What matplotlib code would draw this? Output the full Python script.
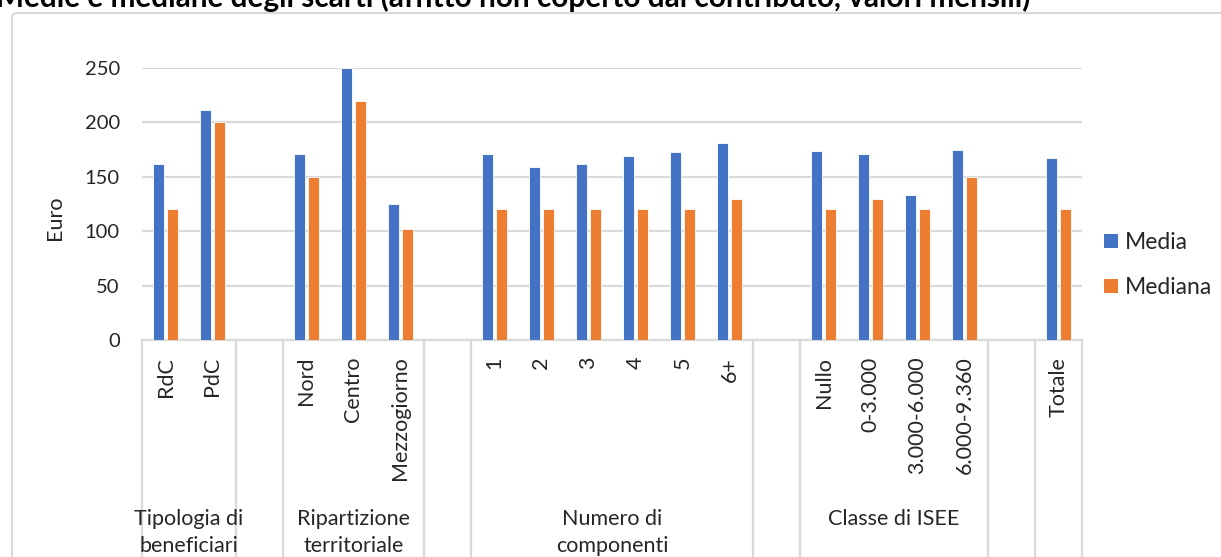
import matplotlib
matplotlib.use("Agg")
import matplotlib.pyplot as plt
import matplotlib.transforms as mtransforms
from matplotlib.patches import FancyBboxPatch, Patch
import numpy as np

plt.rcParams["font.family"] = ["Lato", "DejaVu Sans"]

# ---- data -------------------------------------------------------------
# Empty strings are spacer slots separating the category groups.
categories = ["RdC", "PdC", "",
              "Nord", "Centro", "Mezzogiorno", "",
              "1", "2", "3", "4", "5", "6+", "",
              "Nullo", "0-3.000", "3.000-6.000", "6.000-9.360", "",
              "Totale"]
media = [162, 211, np.nan,
         171, 250, 125, np.nan,
         171, 159, 162, 169, 173, 181, np.nan,
         174, 171, 133, 175, np.nan,
         167]
mediana = [120, 200, np.nan,
           150, 220, 102, np.nan,
           120, 120, 120, 120, 120, 130, np.nan,
           120, 130, 120, 150, np.nan,
           120]
group_labels = ["Tipologia di\nbeneficiari", "", "Ripartizione\nterritoriale", "",
                "Numero di\ncomponenti", "", "Classe di ISEE", "", ""]
group_sizes = [2, 1, 3, 1, 6, 1, 4, 1, 1]
series_names = ["Media", "Mediana"]
y_ticks = [0, 50, 100, 150, 200, 250]

# ---- style ------------------------------------------------------------
BLUE = "#4472C4"
ORANGE = "#ED7D31"
GRID = "#d9d9d9"
TEXT = "#262626"

W, H = 1221, 557
fig = plt.figure(figsize=(W / 100, H / 100), dpi=100)

# chart frame
frame = FancyBboxPatch((12 / W, -0.1), 1.2, 1 - 13 / H + 0.1,
                       boxstyle="round,pad=0,rounding_size=0.006",
                       transform=fig.transFigure, facecolor="none",
                       edgecolor=GRID, linewidth=1.5, zorder=-5)
fig.patches.append(frame)

ax = fig.add_axes([142 / W, (H - 340) / H, (1082 - 142) / W, (340 - 68) / H])
ax.set_facecolor("none")

x = np.arange(len(categories))
med = np.array(media, dtype=float)
mdn = np.array(mediana, dtype=float)
bw = 0.235
off = 0.148
mask = ~np.isnan(med)
ax.bar(x[mask] - off, med[mask], width=bw, color=BLUE,
       edgecolor="white", linewidth=0.6, zorder=3, label=series_names[0])
mask2 = ~np.isnan(mdn)
ax.bar(x[mask2] + off, mdn[mask2], width=bw, color=ORANGE,
       edgecolor="white", linewidth=0.6, zorder=3, label=series_names[1])

ax.set_xlim(-0.5, len(categories) - 0.5)
ax.set_ylim(0, 250)
ax.set_yticks(y_ticks)
ax.yaxis.grid(True, color=GRID, linewidth=1.6)
ax.set_axisbelow(True)
for s in ["top", "right", "left"]:
    ax.spines[s].set_visible(False)
ax.spines["bottom"].set_color(GRID)
ax.spines["bottom"].set_linewidth(1.6)
ax.tick_params(axis="y", length=0, pad=16, labelsize=14.5, labelcolor=TEXT)
ax.tick_params(axis="x", length=0, pad=12, labelsize=15.5, labelcolor=TEXT)
ax.set_xticks(x)
ax.set_xticklabels(categories, rotation=90, va="top", ha="center")

# group separators and group labels below the axis
trans = mtransforms.blended_transform_factory(ax.transData, ax.transAxes)
bounds = np.concatenate([[0], np.cumsum(group_sizes)]) - 0.5
for b in bounds:
    ax.plot([b, b], [0, -1.0], transform=trans, color=GRID,
            linewidth=1.6, clip_on=False, zorder=1)
for lbl, a, b in zip(group_labels, bounds[:-1], bounds[1:]):
    if lbl:
        ax.text((a + b) / 2, (340 - 509) / 272, lbl, transform=trans,
                ha="center", va="top", fontsize=15.5, color=TEXT,
                linespacing=1.45)

fig.text(55 / W, 1 - 218 / H, "Euro", rotation=90, ha="center", va="center",
         fontsize=15.5, color=TEXT)

handles = [Patch(facecolor=BLUE), Patch(facecolor=ORANGE)]
fig.legend(handles, series_names, loc="center left",
           bbox_to_anchor=(1104 / W, 1 - 265 / H), frameon=False,
           borderpad=0, borderaxespad=0,
           fontsize=16.5, handlelength=0.6, handleheight=0.6,
           handletextpad=0.3, labelspacing=1.05, labelcolor=TEXT)

# title sits partly above the canvas edge
title = fig.text(-4 / W, 1 - 7 / H,
                 "Medie e mediane degli scarti (affitto non coperto dal contributo, valori mensili)",
                 ha="left", va="baseline", fontsize=16, fontweight="bold",
                 color="black")
fig.canvas.draw()
bb = title.get_window_extent()
target = 1037 + 4
title.set_fontsize(16 * target / bb.width)

fig.savefig("out.png", dpi=100)
